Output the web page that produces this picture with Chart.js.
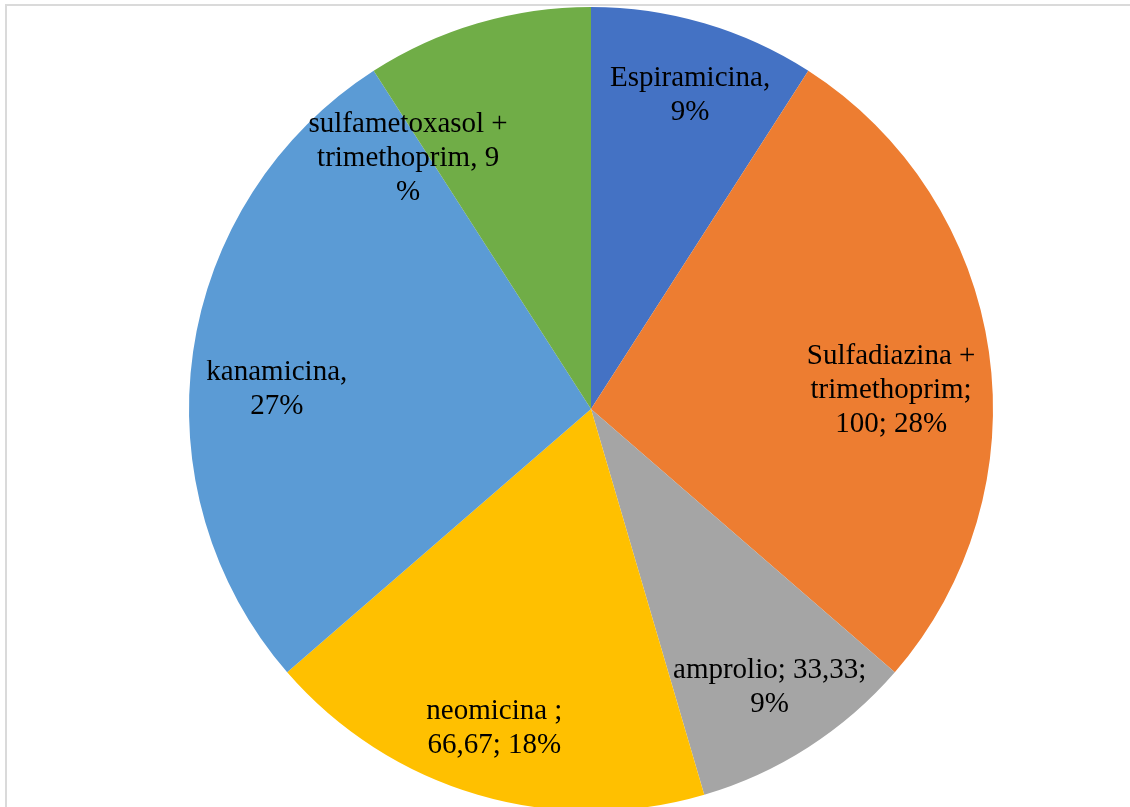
<!DOCTYPE html>
<html>
<head>
<meta charset="utf-8">
<script src="https://cdn.jsdelivr.net/npm/chart.js@4/dist/chart.umd.min.js"></script>
<style>
  html, body { margin: 0; padding: 0; background: #fff; overflow: hidden; }
  #wrap { position: relative; width: 1130px; height: 807px; }
  #frame {
    position: absolute; left: 5px; top: 4px; width: 1200px; height: 900px;
    border-left: 2px solid #dadada; border-top: 2px solid #dadada;
    pointer-events: none;
  }
  canvas { position: absolute; left: 0; top: 0; }
</style>
</head>
<body>
<div id="wrap">
  <canvas id="myChart" width="1130" height="807"></canvas>
  <div id="frame"></div>
</div>
<script>
const names = ['Espiramicina', 'Sulfadiazina + trimethoprim', 'amprolio', 'neomicina', 'kanamicina', 'sulfametoxasol + trimethoprim'];
const values = [33.33, 100, 33.33, 66.67, 100, 33.33];
// percentages as printed on the slices
const shownPct = [9, 28, 9, 18, 27, 9];
const colors = ['#4472C4', '#ED7D31', '#A5A5A5', '#FFC000', '#5B9BD5', '#70AD47'];

// decimal comma, as in the labels
const fmt = v => String(v).replace('.', ',');

// label text, wrapped the way the slices show it
const labelLines = [
  ['Espiramicina,', shownPct[0] + '%'],
  ['Sulfadiazina +', 'trimethoprim;', fmt(values[1]) + '; ' + shownPct[1] + '%'],
  ['amprolio; ' + fmt(values[2]) + ';', shownPct[2] + '%'],
  ['neomicina ;', fmt(values[3]) + '; ' + shownPct[3] + '%'],
  ['kanamicina,', shownPct[4] + '%'],
  ['sulfametoxasol +', 'trimethoprim, ' + shownPct[5], '%']
];

// where each label sits: turn from the slice's middle (degrees) and fraction of the radius
const labelTurn = [1.2, 4.6, 0, 0.5, -4.7, -19.8];
const labelDist = [0.817, 0.748, 0.822, 0.829, 0.783, 0.771];

const sliceLabels = {
  id: 'sliceLabels',
  afterDatasetsDraw(chart) {
    const ctx = chart.ctx;
    const arcs = chart.getDatasetMeta(0).data;
    ctx.save();
    ctx.font = '29px "Liberation Serif", "Times New Roman", serif';
    ctx.fillStyle = '#000';
    ctx.textAlign = 'center';
    ctx.textBaseline = 'middle';
    const lh = 34;
    arcs.forEach((arc, i) => {
      const p = arc.getProps(['x', 'y', 'startAngle', 'endAngle', 'outerRadius'], true);
      const a = (p.startAngle + p.endAngle) / 2 + labelTurn[i] * Math.PI / 180;
      const r = p.outerRadius * labelDist[i];
      const cx = p.x + Math.cos(a) * r;
      const cy = p.y + Math.sin(a) * r;
      const lines = labelLines[i];
      const top = cy - (lines.length - 1) * lh / 2;
      lines.forEach((t, k) => ctx.fillText(t, cx, top + k * lh));
    });
    ctx.restore();
  }
};

const config = {
  type: 'pie',
  data: {
    labels: names,
    datasets: [{
      data: values,
      backgroundColor: colors,
      borderWidth: 0
    }]
  },
  options: {
    responsive: false,
    animation: false,
    radius: 402,
    layout: { padding: { left: 52, top: 11, right: 0, bottom: 0 } },
    plugins: {
      legend: { display: false },
      tooltip: { enabled: false }
    }
  },
  plugins: [sliceLabels]
};

const myChart = new Chart(document.getElementById('myChart'), config);
</script>
</body>
</html>
